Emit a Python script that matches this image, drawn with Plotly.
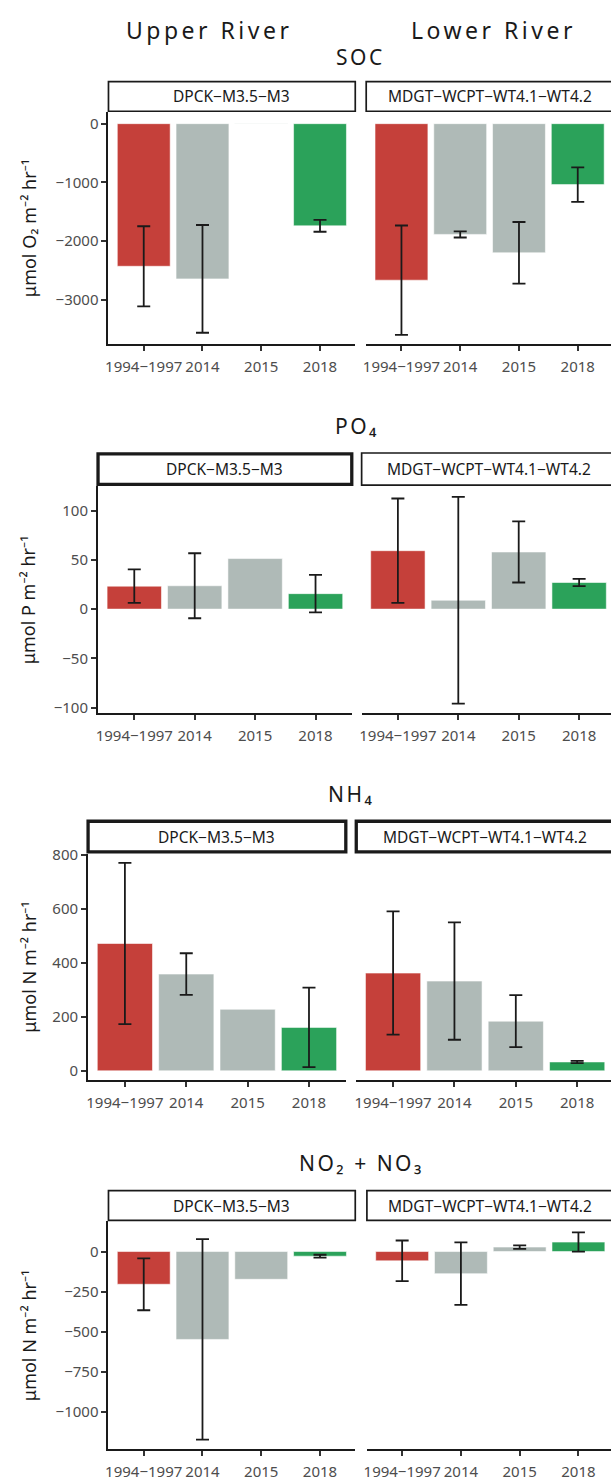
import plotly.graph_objects as go

# ---------------- data ----------------
years = ["1994\u22121997", "2014", "2015", "2018"]
bar_colors = ["#C5403A", "#AFBAB7", "#AFBAB7", "#2BA25A"]
sites = ["DPCK\u2212M3.5\u2212M3", "MDGT\u2212WCPT\u2212WT4.1\u2212WT4.2"]

soc_upper_mean = [-2433, -2648, -5, -1743]
soc_upper_err = [683, 919, None, 101]
soc_lower_mean = [-2670, -1889, -2203, -1040]
soc_lower_err = [933, 53, 525, 295]

po4_upper_mean = [23.3, 23.7, 51.3, 15.7]
po4_upper_err = [17, 33, None, 19]
po4_lower_mean = [59.3, 9, 58, 27]
po4_lower_err = [53, 105, 31, 3.7]

nh4_upper_mean = [471, 358, 227.6, 160.7]
nh4_upper_err = [298, 77, None, 147]
nh4_lower_mean = [361.6, 332, 183.7, 32.8]
nh4_lower_err = [228, 217, 96, 4]

nox_upper_mean = [-204, -548, -173, -29]
nox_upper_err = [162, 625, None, 9]
nox_lower_mean = [-58, -138, 28, 59]
nox_lower_err = [127, 195, 11, 60]

soc_ticks = [0, -1000, -2000, -3000]
po4_ticks = [100, 50, 0, -50, -100]
nh4_ticks = [0, 200, 400, 600, 800]
nox_ticks = [0, -250, -500, -750, -1000]

# ---------------- layout helpers ----------------
FW, FH = 611, 1481
FONT = "Noto Sans, Open Sans, DejaVu Sans, sans-serif"


def px_x(x):
    return x / FW


def px_y(y):
    return 1 - y / FH


rows = [
    dict(title="SOC", ylab="\u03bcmol O\u2082 m\u207b\u00b2 hr\u207b\u00b9",
         series=[(soc_upper_mean, soc_upper_err), (soc_lower_mean, soc_lower_err)],
         ticks=soc_ticks, yrange=[-3766, 197],
         xl=106, xr=365, W=248, top=103.3, bottom=338.3, strip_top=71.7,
         strip_lw=[1.7, 1.7], title_y=48),
    dict(title="PO\u2084", ylab="\u03bcmol P m\u207b\u00b2 hr\u207b\u00b9",
         series=[(po4_upper_mean, po4_upper_err), (po4_lower_mean, po4_lower_err)],
         ticks=po4_ticks, yrange=[-105.3, 125],
         xl=95.5, xr=360.4, W=255, top=481.5, bottom=711, strip_top=447.3,
         strip_lw=[3.3, 1.7], title_y=421),
    dict(title="NH\u2084", ylab="\u03bcmol N m\u207b\u00b2 hr\u207b\u00b9",
         series=[(nh4_upper_mean, nh4_upper_err), (nh4_lower_mean, nh4_lower_err)],
         ticks=nh4_ticks, yrange=[-35, 804],
         xl=85.5, xr=355, W=259, top=853.3, bottom=1082.7, strip_top=819,
         strip_lw=[3.3, 3.3], title_y=793),
    dict(title="NO\u2082 + NO\u2083", ylab="\u03bcmol N m\u207b\u00b2 hr\u207b\u00b9",
         series=[(nox_upper_mean, nox_upper_err), (nox_lower_mean, nox_lower_err)],
         ticks=nox_ticks, yrange=[-1233, 189],
         xl=106, xr=365.7, W=248, top=1225.3, bottom=1456, strip_top=1193.5,
         strip_lw=[1.7, 1.7], title_y=1166),
]

fig = go.Figure()
layout = {}
shapes = []
annotations = []

AXCOL = "#1a1a1a"
TICKFONT = dict(family=FONT, size=15, color="#4D4D4D")

for i, row in enumerate(rows):
    for j in range(2):
        idx = i * 2 + j + 1
        sfx = "" if idx == 1 else str(idx)
        xname, yname = "x" + sfx, "y" + sfx
        means, errs = row["series"][j]
        fig.add_trace(go.Bar(
            x=years, y=means, xaxis=xname, yaxis=yname, showlegend=False,
            marker=dict(color=bar_colors, line=dict(color="rgba(255,255,255,0.7)", width=0.8)),
        ))
        # error bars only where an error value exists
        ex = [c for c, e in zip(years, errs) if e is not None]
        ey = [m for m, e in zip(means, errs) if e is not None]
        ee = [e for e in errs if e is not None]
        fig.add_trace(go.Scatter(
            x=ex, y=ey, mode="markers", marker=dict(size=1, opacity=0),
            xaxis=xname, yaxis=yname, showlegend=False, hoverinfo="skip",
            error_y=dict(type="data", array=ee, visible=True, color=AXCOL,
                         thickness=1.8, width=6.5),
        ))
        left = row["xl"] if j == 0 else row["xr"]
        right = min(left + row["W"], FW)
        xend = -0.6 + 4.2 * (right - left) / row["W"]
        layout["xaxis" + sfx] = dict(
            domain=[px_x(left), px_x(right)], range=[-0.6, xend], type="category",
            categoryorder="array", categoryarray=years, anchor=yname,
            showline=True, linecolor=AXCOL, linewidth=2, ticks="outside",
            ticklen=5, tickwidth=1.6, tickcolor="#333333", tickfont=TICKFONT,
            ticklabelstandoff=3,
            showgrid=False, zeroline=False, fixedrange=True)
        layout["yaxis" + sfx] = dict(
            domain=[px_y(row["bottom"]), px_y(row["top"])], range=row["yrange"],
            anchor=xname, showline=(j == 0), linecolor=AXCOL, linewidth=2,
            ticks="outside" if j == 0 else "", ticklen=5, tickwidth=1.6,
            tickcolor="#333333", tickvals=row["ticks"], showticklabels=(j == 0),
            tickfont=TICKFONT, showgrid=False, zeroline=False, fixedrange=True)
        # strip
        lw = row["strip_lw"][j]
        x1 = left + row["W"] if j == 0 else left + row["W"] + 10
        shapes.append(dict(type="rect", xref="paper", yref="paper",
                           x0=px_x(left), x1=px_x(x1),
                           y0=px_y(row["top"] - lw / 2), y1=px_y(row["strip_top"] + lw / 2),
                           line=dict(color=AXCOL, width=lw), fillcolor="white", layer="above"))
        annotations.append(dict(xref="paper", yref="paper",
                                x=px_x(left + row["W"] / 2),
                                y=px_y((row["top"] + row["strip_top"]) / 2),
                                text=sites[j], showarrow=False, xanchor="center", yanchor="middle",
                                font=dict(family=FONT, size=15.5, color="#1a1a1a")))
    # row title
    annotations.append(dict(xref="paper", yref="paper",
                            x=px_x(row["xl"] + (row["xr"] + row["W"] - row["xl"]) / 2),
                            y=px_y(row["title_y"]),
                            text='<span style="letter-spacing:2.5px">' + row["title"] + "</span>",
                            showarrow=False, xanchor="center", yanchor="middle",
                            font=dict(family=FONT, size=21, color="#1a1a1a")))
    # y-axis label
    annotations.append(dict(xref="paper", yref="paper", x=px_x(26),
                            y=px_y((row["top"] + row["bottom"]) / 2),
                            text=row["ylab"], textangle=-90, showarrow=False,
                            xanchor="center", yanchor="middle",
                            font=dict(family=FONT, size=18, color="#1a1a1a")))

for txt, cx in [("Upper River", 207), ("Lower River", 493)]:
    annotations.append(dict(xref="paper", yref="paper", x=px_x(cx), y=px_y(20),
                            text='<span style="letter-spacing:3.5px">' + txt + "</span>",
                            showarrow=False, xanchor="center", yanchor="middle",
                            font=dict(family=FONT, size=23, color="#1a1a1a")))

fig.update_layout(
    width=FW, height=FH, margin=dict(l=0, r=0, t=0, b=0),
    paper_bgcolor="white", plot_bgcolor="white",
    bargap=0.1, shapes=shapes, annotations=annotations,
    font=dict(family=FONT), **layout)

fig.write_html("out.html")
